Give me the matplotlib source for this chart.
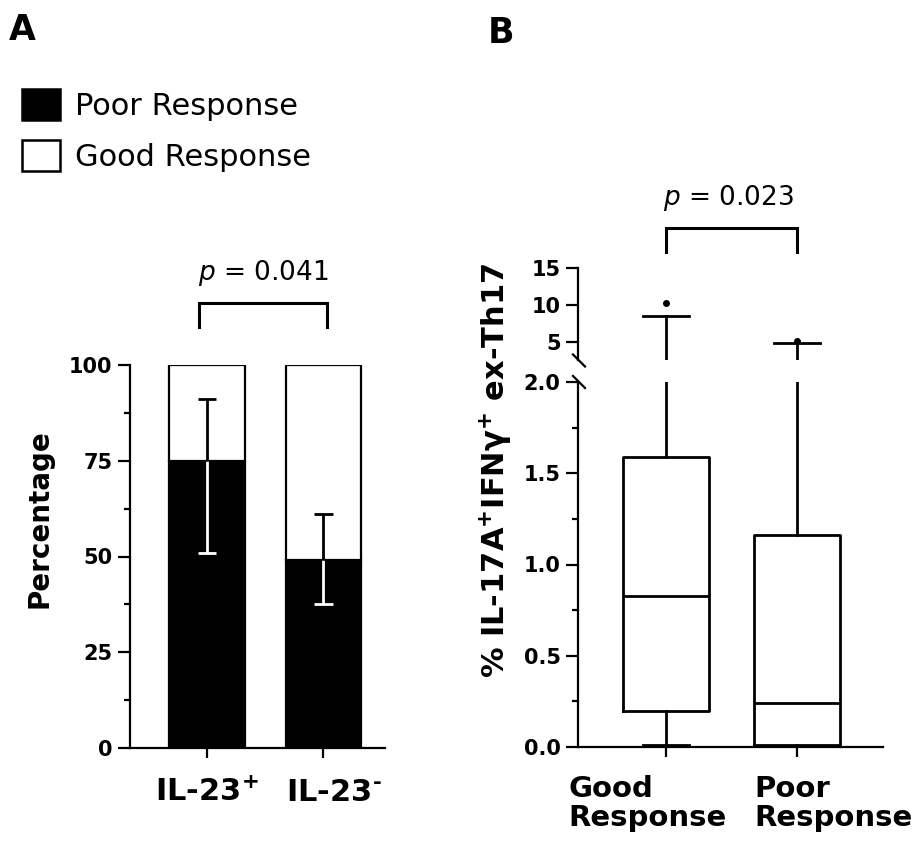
import matplotlib
matplotlib.use('Agg')
import matplotlib.pyplot as plt
from matplotlib.patches import Patch
import numpy as np

plt.rcParams['font.family'] = ['DejaVu Sans']
plt.rcParams['mathtext.fontset'] = 'dejavusans'

# ---------------- Panel A data ----------------
groups_a = ['IL-23$^{\\mathbf{+}}$', 'IL-23$^{\\mathbf{\u2010}}$']
poor_pct = [75, 49]
good_pct = [25, 51]
err_low = [51, 37.5]
err_high = [91, 61]
yticks_a = [0, 25, 50, 75, 100]
p_text_a = '$p$ = 0.041'
legend_labels = ['Poor Response', 'Good Response']

# ---------------- Panel B data ----------------
groups_b = ['Good\nResponse', 'Poor\nResponse']
b_whislo = [0.01, 0.0]
b_q1 = [0.20, 0.01]
b_med = [0.83, 0.24]
b_q3 = [1.59, 1.16]
b_whishi = [8.55, 4.85]
b_fliers = [[10.3], [5.2]]
yticks_b_low = [0.0, 0.5, 1.0, 1.5, 2.0]
yticks_b_up = [5, 10, 15]
p_text_b = '$p$ = 0.023'
ylabel_b = '% IL-17A$^{\\mathbf{+}}$IFNγ$^{\\mathbf{+}}$ ex-Th17'

W, H = 917, 842
fig = plt.figure(figsize=(W / 100, H / 100), dpi=100)

def fx(px):
    return px / W

def fy(py):
    return 1 - py / H

LW = 1.6
TICKFS = 15

# ================= Panel A =================
axA = fig.add_axes([fx(130), fy(748), fx(385) - fx(130), fy(365) - fy(748)])
xa = np.arange(len(groups_a))
bw = 0.652
axA.bar(xa, poor_pct, width=bw, color='black', edgecolor='black', linewidth=LW, zorder=2)
axA.bar(xa, good_pct, width=bw, bottom=poor_pct, color='white', edgecolor='black',
        linewidth=LW, zorder=2)
cw = 0.16
for i, x in enumerate(xa):
    lo, hi, p = err_low[i], err_high[i], poor_pct[i]
    axA.vlines(x, lo, min(hi, p), color='white', lw=2, zorder=3)
    axA.vlines(x, max(lo, p), hi, color='black', lw=2, zorder=3)
    axA.hlines(lo, x - cw / 2, x + cw / 2, color='white' if lo < p else 'black', lw=2, zorder=3)
    axA.hlines(hi, x - cw / 2, x + cw / 2, color='white' if hi < p else 'black', lw=2, zorder=3)

axA.set_xlim(-0.661, 1.528)
axA.set_ylim(0, 100)
axA.set_yticks(yticks_a)
axA.set_yticklabels([str(v) for v in yticks_a], fontsize=TICKFS, fontweight='bold')
axA.set_yticks([12.5, 37.5, 62.5, 87.5], minor=True)
axA.set_xticks(xa)
axA.set_xticklabels(['' for _ in groups_a])
label_dx_a = [0, 10]
for i, lab in enumerate(groups_a):
    axA.annotate(lab, xy=(xa[i], 0), xycoords=('data', 'axes fraction'),
                 xytext=(label_dx_a[i], -30), textcoords='offset pixels',
                 ha='center', va='top', fontsize=22, fontweight='bold')
axA.tick_params(axis='y', which='major', length=8.5, width=LW, pad=4)
axA.tick_params(axis='y', which='minor', length=4.3, width=LW)
axA.tick_params(axis='x', which='major', length=7, width=LW, pad=10)
for s in ['top', 'right']:
    axA.spines[s].set_visible(False)
for s in ['left', 'bottom']:
    axA.spines[s].set_linewidth(LW)
axA.set_ylabel('Percentage', fontsize=20, fontweight='bold')
axA.yaxis.set_label_coords(-0.353, 0.60)
axA.yaxis.label.set_va('center')

# bracket A
ya_bar, ya_leg = 116.2, 109.9
xl, xr = xa[0] - 0.07, xa[1] + 0.03
axA.plot([xl, xl, xr, xr], [ya_leg, ya_bar, ya_bar, ya_leg], color='black', lw=2.2,
         clip_on=False, solid_joinstyle='miter')
axA.text((xl + xr) / 2, 124.0, p_text_a, ha='center', va='center', fontsize=19)

# legend
handles = [Patch(facecolor='black', edgecolor='black', linewidth=1.8),
           Patch(facecolor='white', edgecolor='black', linewidth=1.8)]
fig.legend(handles, legend_labels, loc='upper left', bbox_to_anchor=(fx(22), fy(89)),
           frameon=False, fontsize=22, handlelength=1.245, handleheight=1.18,
           handletextpad=0.5, labelspacing=0.62, borderpad=0, borderaxespad=0)

fig.text(fx(9), fy(13), 'A', fontsize=25, fontweight='bold', ha='left', va='top')

# ================= Panel B =================
axL = fig.add_axes([fx(578), fy(747), fx(883) - fx(578), fy(382) - fy(747)])
axU = fig.add_axes([fx(578), fy(360.5), fx(883) - fx(578), fy(268) - fy(360.5)])
xb = np.arange(len(groups_b))
stats = []
for i in range(len(groups_b)):
    stats.append(dict(med=b_med[i], q1=b_q1[i], q3=b_q3[i], whislo=b_whislo[i],
                      whishi=b_whishi[i], fliers=np.array(b_fliers[i]), label=groups_b[i]))
lp = dict(color='black', linewidth=2)
for ax in (axL, axU):
    ax.bxp(stats, positions=xb, widths=0.656, capwidths=0.351, showfliers=True,
           boxprops=lp, medianprops=lp, whiskerprops=lp, capprops=lp,
           flierprops=dict(marker='o', markersize=4, markerfacecolor='black',
                           markeredgecolor='black'))
    ax.set_xlim(-0.672, 1.656)

axL.set_ylim(0, 2.0)
axU.set_ylim(2.5, 15)
axL.set_yticks(yticks_b_low)
axL.set_yticklabels([f'{v:.1f}' for v in yticks_b_low], fontsize=TICKFS, fontweight='bold')
axL.set_yticks([0.25, 0.75, 1.25, 1.75], minor=True)
axU.set_yticks(yticks_b_up)
axU.set_yticklabels([str(v) for v in yticks_b_up], fontsize=TICKFS, fontweight='bold')
axL.set_xticks(xb)
axL.set_xticklabels(['' for _ in groups_b])
label_dx_b = [-98, -43]
for i, lab in enumerate(groups_b):
    axL.annotate(lab, xy=(xb[i], 0), xycoords=('data', 'axes fraction'),
                 xytext=(label_dx_b[i], -28), textcoords='offset pixels',
                 ha='left', va='top', fontsize=21, fontweight='bold', linespacing=1.05)
axU.set_xticks([])
for ax in (axL, axU):
    ax.tick_params(axis='y', which='major', length=8.5, width=LW, pad=4)
    ax.tick_params(axis='y', which='minor', length=4.3, width=LW)
    ax.spines['top'].set_visible(False)
    ax.spines['right'].set_visible(False)
    for s in ['left', 'bottom']:
        ax.spines[s].set_linewidth(LW)
axU.spines['bottom'].set_visible(False)
axL.tick_params(axis='x', which='major', length=7, width=LW, pad=10)

# break marks
for ax, yc in ((axU, 0.0), (axL, 1.0)):
    bb = ax.get_position()
    h_px = bb.height * H
    w_px = bb.width * W
    dx = 6 / w_px
    dy = 6 / h_px
    ax.plot([-dx + 1 / w_px, dx + 1 / w_px], [yc + dy, yc - dy], transform=ax.transAxes,
            color='black', lw=LW, clip_on=False)

axL.set_ylabel(ylabel_b, fontsize=22, fontweight='bold')
axL.yaxis.set_label_coords(-0.27, 0.759)
axL.yaxis.label.set_va('center')

# bracket B
yb_bar, yb_leg = 20.4, 17.2
axU.plot([xb[0], xb[0], xb[1], xb[1]], [yb_leg, yb_bar, yb_bar, yb_leg], color='black',
         lw=2.2, clip_on=False, solid_joinstyle='miter')
axU.text(0.48, 24.5, p_text_b, ha='center', va='center', fontsize=19)

fig.text(fx(488), fy(16), 'B', fontsize=25, fontweight='bold', ha='left', va='top')

fig.savefig('out.png', dpi=100)
